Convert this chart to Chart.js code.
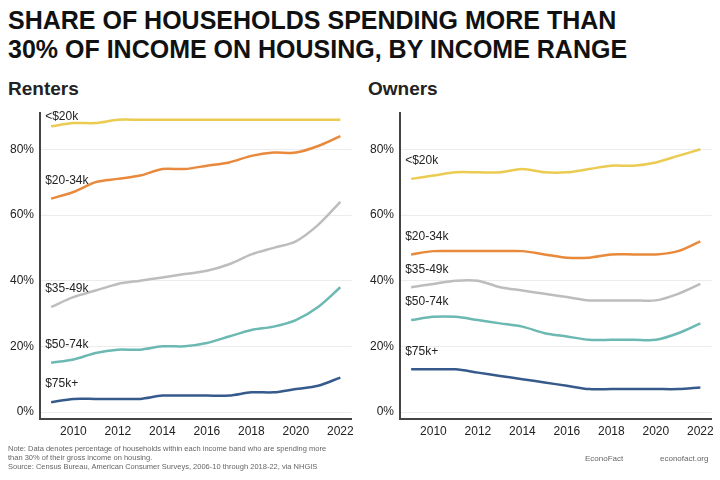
<!DOCTYPE html>
<html>
<head>
<meta charset="utf-8">
<script src="https://cdn.jsdelivr.net/npm/chart.js@4"></script>
<style>
  body { margin: 0; width: 720px; height: 480px; background: #fff; font-family: "Liberation Sans", Arial, sans-serif; position: relative; overflow: hidden; }
  #title { position: absolute; left: 8px; top: 6px; font-size: 25px; font-weight: bold; line-height: 29px; color: #111; }
  .sub { position: absolute; top: 78px; font-size: 19px; font-weight: bold; color: #222; }
  .box { position: absolute; top: 100px; width: 360px; height: 345px; }
  #note { position: absolute; left: 8px; top: 444px; font-size: 7.5px; color: #666; line-height: 9px; }
  .src { position: absolute; top: 454px; font-size: 8px; color: #666; }
</style>
</head>
<body>
<div id="title">SHARE OF HOUSEHOLDS SPENDING MORE THAN<br>30% OF INCOME ON HOUSING, BY INCOME RANGE</div>
<div class="sub" style="left:8px">Renters</div>
<div class="sub" style="left:368px">Owners</div>
<div class="box" style="left:0"><canvas id="renters"></canvas></div>
<div class="box" style="left:360px"><canvas id="owners"></canvas></div>
<div id="note">Note: Data denotes percentage of households within each income band who are spending more<br>than 30% of their gross income on housing.<br>Source: Census Bureau, American Consumer Surveys, 2006-10 through 2018-22, via NHGIS</div>
<div class="src" style="left:585px">EconoFact</div>
<div class="src" style="left:660px">econofact.org</div>
<script>
const years = [2009,2010,2011,2012,2013,2014,2015,2016,2017,2018,2019,2020,2021,2022];
const bands = ['<$20k','$20-34k','$35-49k','$50-74k','$75k+'];
const colors = ['#ebcb52','#e8893b','#bdbdbd','#6cb8b2','#365a8c'];

const renters20 = [87,88,88,89,89,89,89,89,89,89,89,89,89,89];
const renters34 = [65,67,70,71,72,74,74,75,76,78,79,79,81,84];
const renters49 = [32,35,37,39,40,41,42,43,45,48,50,52,57,64];
const renters74 = [15,16,18,19,19,20,20,21,23,25,26,28,32,38];
const renters75 = [3,4,4,4,4,5,5,5,5,6,6,7,8,10.5];

const owners20 = [71,72,73,73,73,74,73,73,74,75,75,76,78,80];
const owners34 = [48,49,49,49,49,49,48,47,47,48,48,48,49,52];
const owners49 = [38,39,40,40,38,37,36,35,34,34,34,34,36,39];
const owners74 = [28,29,29,28,27,26,24,23,22,22,22,22,24,27];
const owners75 = [13,13,13,12,11,10,9,8,7,7,7,7,7,7.5];

const lineLabels = {
  id: 'lineLabels',
  afterDatasetsDraw(chart) {
    const ctx = chart.ctx;
    ctx.save();
    ctx.font = '12px "Liberation Sans", Arial, sans-serif';
    ctx.fillStyle = '#222';
    ctx.textBaseline = 'bottom';
    chart.data.datasets.forEach((ds, i) => {
      const pt = chart.getDatasetMeta(i).data[0];
      const dy = pt.y - 12 < chart.chartArea.top + 14 ? 4 : 12;
      ctx.fillText(ds.label, pt.x - 6, pt.y - dy);
    });
    ctx.restore();
  }
};

function panel(id, series) {
  new Chart(document.getElementById(id), {
    type: 'line',
    data: {
      labels: years,
      datasets: series.map((d, i) => ({
        label: bands[i], data: d, borderColor: colors[i], borderWidth: 2.5,
        pointRadius: 0, tension: 0.3, fill: false
      }))
    },
    options: {
      responsive: true, maintainAspectRatio: false, animation: false,
      layout: { padding: { left: 4, right: 8, top: 4 } },
      plugins: { legend: { display: false }, tooltip: { enabled: false } },
      scales: {
        x: {
          offset: true,
          grid: { display: false, drawTicks: false },
          border: { color: '#444', width: 2 },
          ticks: { color: '#222', font: { size: 12 }, maxRotation: 0, autoSkip: false, padding: 6,
            callback: (v, i) => years[i] % 2 === 0 ? years[i] : '' }
        },
        y: {
          min: -2, max: 91,
          afterBuildTicks: ax => { ax.ticks = [0,20,40,60,80].map(v => ({ value: v })); },
          grid: { color: '#ececec', drawTicks: false },
          border: { color: '#444', width: 2 },
          ticks: { color: '#222', font: { size: 12 }, padding: 6, callback: v => v + '%' }
        }
      }
    },
    plugins: [lineLabels]
  });
}

panel('renters', [renters20, renters34, renters49, renters74, renters75]);
panel('owners', [owners20, owners34, owners49, owners74, owners75]);
</script>
</body>
</html>
